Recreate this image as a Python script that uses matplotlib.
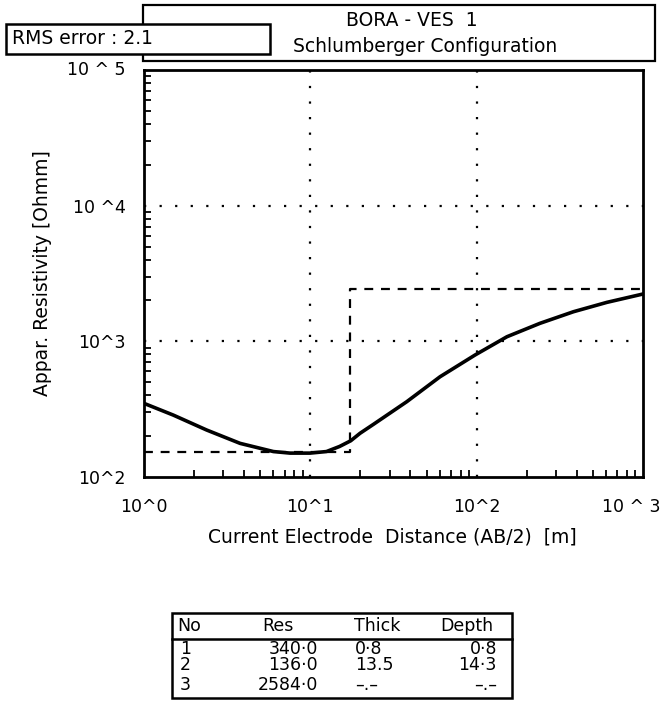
import matplotlib
matplotlib.use("Agg")
import matplotlib.pyplot as plt
import matplotlib.transforms as mtransforms
from matplotlib.patches import Rectangle
import numpy as np

# ---- data ----
ab2 = [1.0, 1.5, 2.38, 3.78, 6.0, 7.55, 9.96, 12.5, 15.0, 17.5, 19.9, 23.9, 38.0,
       60.2, 97.8, 152, 240, 382, 606, 1000]
rho_a = [349, 286, 222, 177, 154, 150, 150, 154, 168, 185, 210, 244, 359,
         548, 793, 1081, 1357, 1653, 1937, 2233]

model_x = [1.0, 17.3, 17.3, 1000]
model_rho = [154, 154, 2430, 2430]

x_ticks = [1, 10, 100, 1000]
x_labels = ["10^0", "10^1", "10^2", "10 ^ 3"]
y_ticks = [100, 1000, 10000, 100000]
y_labels = ["10^2", "10^3", "10 ^4", "10 ^ 5"]

title1 = "BORA - VES  1"
title2 = "Schlumberger Configuration"
rms_text = "RMS error : 2.1"
x_title = "Current Electrode  Distance (AB/2)  [m]"
y_title = "Appar. Resistivity [Ohmm]"

tab_header = ["No", "Res", "Thick", "Depth"]
tab_no = ["1", "2", "3"]
tab_res = ["340\u00b70", "136\u00b70", "2584\u00b70"]
tab_thick = ["0\u00b78", "13.5", "\u2013.\u2013"]
tab_depth = ["0\u00b78", "14\u00b73", "\u2013.\u2013"]

W, H = 661, 704
fig = plt.figure(figsize=(W / 100, H / 100), dpi=100)
fig.patch.set_facecolor("white")

def fx(px):
    return px / W

def fy(py):
    return 1 - py / H

L, R, T, B = 144, 643, 70, 477
ax = fig.add_axes([fx(L), fy(B), (R - L) / W, (B - T) / H])
ax.set_xscale("log")
ax.set_yscale("log")
ax.set_xlim(1, 1000)
ax.set_ylim(100, 100000)

ax.plot(ab2, rho_a, color="black", lw=2.6, solid_capstyle="round",
        solid_joinstyle="round")
ax.plot(model_x, model_rho, color="black", lw=1.6, dashes=(4, 3.5))

for xv in x_ticks[1:-1]:
    ax.axvline(xv, color="black", lw=1.6, linestyle=(0, (1, 6)))
for yv in y_ticks[1:-1]:
    ax.axhline(yv, color="black", lw=1.6, linestyle=(0, (1, 6)))

ax.set_xticks(x_ticks)
ax.set_xticklabels(x_labels, fontsize=12.5)
ax.set_yticks(y_ticks)
ax.set_yticklabels(y_labels, fontsize=12.5)
ax.tick_params(axis="x", which="major", length=0, pad=15)
ax.tick_params(axis="y", which="major", length=0, pad=13)
ax.tick_params(which="minor", direction="in", length=5, width=1.3,
               labelbottom=False, labelleft=False)
ax.xaxis.set_minor_locator(matplotlib.ticker.LogLocator(base=10, subs=np.arange(2, 10)))
ax.yaxis.set_minor_locator(matplotlib.ticker.LogLocator(base=10, subs=np.arange(2, 10)))
for s in ax.spines.values():
    s.set_linewidth(2)

# keep last x tick label inside the figure, as in the reference
lab = ax.get_xticklabels()[-1]
lab.set_horizontalalignment("right")
lab.set_transform(lab.get_transform() +
                  mtransforms.ScaledTranslation(18 / 100, 0, fig.dpi_scale_trans))
# top y label sits slightly above the axes top
ylab = ax.get_yticklabels()[-1]
ylab.set_transform(ylab.get_transform() +
                   mtransforms.ScaledTranslation(0, 2 / 100, fig.dpi_scale_trans))

ax.set_xlabel(x_title, fontsize=13.5)
ax.xaxis.set_label_coords(0.497, -0.125)
ax.set_ylabel(y_title, fontsize=13.5)
ax.yaxis.set_label_coords(-0.185, 0.5)

# title box
fig.patches.append(Rectangle((fx(143), fy(61)), (655 - 143) / W, (61 - 5) / H,
                             transform=fig.transFigure, fill=True, facecolor="white",
                             edgecolor="black", lw=1.6))
fig.text(fx(412), fy(20), title1, ha="center", va="center", fontsize=13.5)
fig.text(fx(425), fy(46), title2, ha="center", va="center", fontsize=13.5)

# rms box
fig.patches.append(Rectangle((fx(6), fy(54)), (270 - 6) / W, (54 - 24) / H,
                             transform=fig.transFigure, fill=True, facecolor="white",
                             edgecolor="black", lw=1.8, zorder=3))
fig.text(fx(12), fy(39), rms_text, ha="left", va="center", fontsize=13.5, zorder=4)

# table
fig.patches.append(Rectangle((fx(172), fy(698)), (512 - 172) / W, (698 - 613) / H,
                             transform=fig.transFigure, fill=False,
                             edgecolor="black", lw=1.8))
fig.add_artist(plt.Line2D([fx(172), fx(512)], [fy(639), fy(639)],
                          transform=fig.transFigure, color="black", lw=1.8))
hx = [(177, "left"), (278, "center"), (377, "center"), (467, "center")]
for (x, ha), h in zip(hx, tab_header):
    fig.text(fx(x), fy(626), h, ha=ha, va="center", fontsize=12.5)

cols = [(180, "left", tab_no), (318, "right", tab_res),
        (355, "left", tab_thick), (497, "right", tab_depth)]
for x, ha, vals in cols:
    # rows 1 and 2 are set tightly, as in the reference
    fig.text(fx(x), fy(657), "\n".join(vals[:2]), ha=ha, va="center",
             fontsize=12.5, linespacing=0.92, multialignment=ha)
    fig.text(fx(x), fy(685), vals[2], ha=ha, va="center", fontsize=12.5)

fig.savefig("out.png", dpi=100, facecolor="white")
